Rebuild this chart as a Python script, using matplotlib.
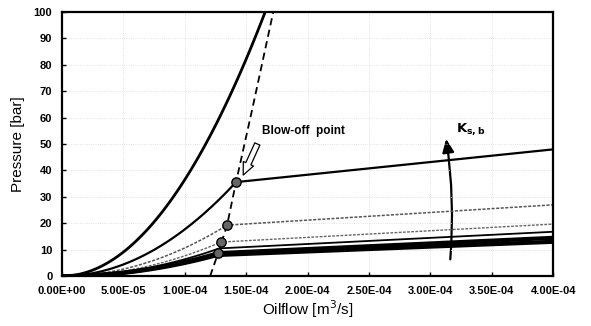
import numpy as np
import matplotlib.pyplot as plt
from matplotlib.patches import FancyArrowPatch

# blow-off points (flow m^3/s, pressure bar) and pressure at 4e-4 for each curve
blow_q = [1.654e-4, 1.417e-4, 1.344e-4, 1.295e-4, 1.280e-4, 1.271e-4, 1.265e-4]
blow_p = [100.0, 35.6, 19.3, 12.9, 10.5, 8.7, 8.0]
end_p = [None, 48.0, 27.0, 19.7, 16.8, 14.5, 13.0]
styles = [
    dict(color='black', lw=2.0, ls='-'),
    dict(color='black', lw=1.6, ls='-'),
    dict(color='#555555', lw=1.1, ls=(0, (2, 1))),
    dict(color='#666666', lw=1.0, ls=(0, (2, 1))),
    dict(color='black', lw=1.3, ls='-'),
    dict(color='black', lw=3.0, ls='-'),
    dict(color='black', lw=3.0, ls='-'),
]
marked = [1, 2, 3, 5]

# blow-off locus (dashed line)
locus_q = [1.206e-4, 1.271e-4, 1.344e-4, 1.417e-4, 1.548e-4, 1.72e-4]
locus_p = [0.0, 8.7, 19.3, 35.6, 63.0, 100.0]

x_ticks = [0, 5e-5, 1e-4, 1.5e-4, 2e-4, 2.5e-4, 3e-4, 3.5e-4, 4e-4]
y_ticks = list(range(0, 101, 10))

fig = plt.figure(figsize=(5.91, 3.26), dpi=100)
ax = fig.add_axes([0.105, 0.153, 0.831, 0.81])

for i, (qb, pb, pe) in enumerate(zip(blow_q, blow_p, end_p)):
    q1 = np.linspace(0, qb, 120)
    p1 = pb * (q1 / qb) ** 2
    if pe is None:
        ax.plot(q1, p1, **styles[i])
    else:
        q = np.append(q1, 4e-4)
        p = np.append(p1, pe)
        ax.plot(q, p, **styles[i])

ax.plot(locus_q, locus_p, color='black', lw=1.3, ls=(0, (4, 2.5)))
ax.scatter([blow_q[i] for i in marked], [blow_p[i] for i in marked],
           s=45, facecolor='#666666', edgecolor='black', lw=1.0, zorder=5)

# annotations
ax.text(1.63e-4, 55, 'Blow-off  point', fontsize=8.5, fontweight='bold',
        family='Liberation Sans', va='center')
ax.annotate('', xy=(1.466e-4, 37.3), xytext=(1.60e-4, 51.0),
            arrowprops=dict(arrowstyle='simple,head_length=0.9,head_width=0.8,tail_width=0.4',
                            facecolor='white', edgecolor='black', lw=0.9))
ks = FancyArrowPatch((3.16e-4, 5.3), (3.125e-4, 53.0),
                     connectionstyle='arc3,rad=0.06',
                     arrowstyle='-|>,head_length=8,head_width=3.5',
                     color='black', lw=1.6)
ax.add_patch(ks)
ax.text(3.21e-4, 55.5, r'$\mathbf{K_{s,b}}$', fontsize=9.5, va='center')

ax.set_xlim(0, 4e-4)
ax.set_ylim(0, 100)
ax.set_xticks(x_ticks)
ax.set_xticklabels(['%.2E' % v for v in x_ticks])
ax.set_yticks(y_ticks)
ax.grid(True, color='#d8d8d8', ls=':', lw=0.6)
for lab in ax.get_xticklabels() + ax.get_yticklabels():
    lab.set_fontweight('bold')
    lab.set_fontsize(8)
    lab.set_family('Liberation Sans')
ax.tick_params(direction='in', length=3, width=1, pad=7)
for s in ax.spines.values():
    s.set_linewidth(1.6)

ax.set_xlabel('Oilflow [m$^3$/s]', fontsize=11, family='Liberation Sans', labelpad=2)
ax.set_ylabel('Pressure [bar]', fontsize=11, family='Liberation Sans', labelpad=6)

fig.savefig('out.png', dpi=100)
